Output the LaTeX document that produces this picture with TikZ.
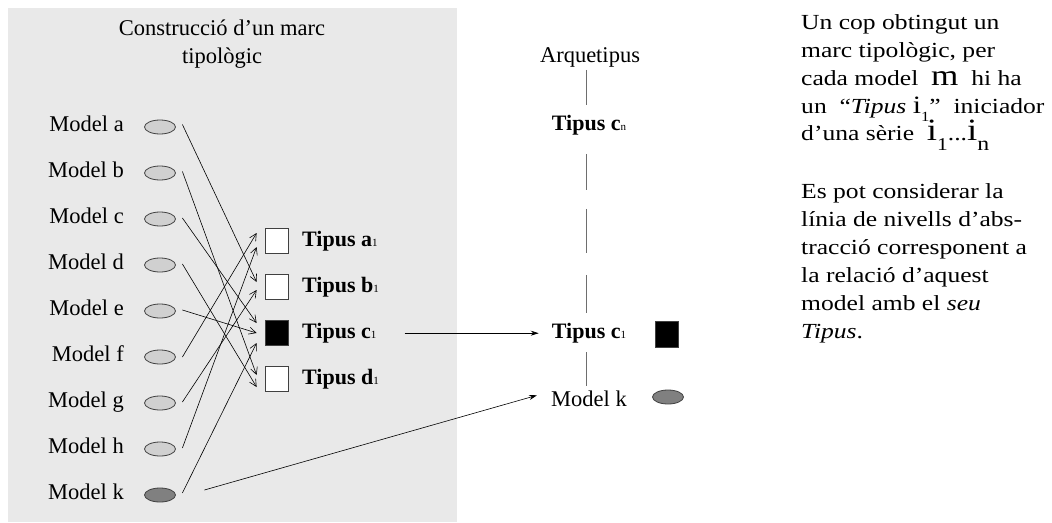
\documentclass[tikz,border=0pt]{standalone}
\usepackage{fontspec}
\setmainfont{Liberation Serif}
\newfontfamily\widefont[FakeStretch=1.19]{Liberation Serif}
\usetikzlibrary{arrows.meta,calc,shapes.geometric}

\definecolor{panel}{RGB}{233,233,233}
\definecolor{ovalfill}{RGB}{208,208,208}
\definecolor{ovaldark}{RGB}{128,128,128}
\definecolor{edge}{RGB}{64,64,64}
\definecolor{rung}{RGB}{110,110,110}

\newcommand{\idx}[1]{{\mdseries\fontsize{11}{11}\selectfont #1}}
\newcommand{\sz}[2]{{\fontsize{#1}{#1}\selectfont #2}}
\newcommand{\drop}[3]{\raisebox{-#1pt}{\sz{#2}{#3}}}

\begin{document}
\begin{tikzpicture}[x=1pt,y=-1pt,
  lbl/.style={font=\fontsize{22.5}{27}\selectfont, inner sep=0pt, anchor=base east},
  oval/.style={ellipse, draw=edge, fill=ovalfill, minimum width=31pt, minimum height=14pt, inner sep=0pt, line width=0.8pt},
  typebox/.style={draw=edge, fill=white, minimum width=23pt, minimum height=25pt, inner sep=0pt, line width=0.8pt},
  tlbl/.style={font=\bfseries\fontsize{22}{26}\selectfont, inner sep=0pt},
  link/.style={-{Straight Barb[length=7pt,width=7pt]}, line width=0.6pt},
  lead/.style={-{Stealth[length=8pt,width=5pt]}, line width=0.6pt},
  rungline/.style={draw=rung, line width=1pt},
  note/.style={font=\widefont\fontsize{21.5}{28}\selectfont, inner sep=0pt, anchor=base west},
]
\useasboundingbox (0,0) rectangle (1052,522);

% shaded panel for the typological frame
\fill[panel] (8,8) rectangle (457,522);
\node[font=\fontsize{22.5}{28}\selectfont, align=center, inner sep=0pt, anchor=north] (title) at (222,19.5)
  {Construcció d’un marc\\tipològic};

% models
\foreach \k/\y in {a/127,b/173,c/219,d/265,e/311,f/357,g/403,h/449}{
  \node[oval] (o\k) at (160,\y) {};
  \node[lbl] (l\k) at (124,\y+4.5) {Model \k};
}
\node[oval, fill=ovaldark] (ok) at (160,495) {};
\node[lbl] (lk) at (124,499.5) {Model k};

% types
\node[typebox] (ta) at (277,241) {};
\node[typebox] (tb) at (277,287) {};
\node[typebox, fill=black] (tc) at (277,333) {};
\node[typebox] (td) at (277,379) {};
\node[tlbl, anchor=base west] (la) at (302,246.5) {Tipus a\idx{1}};
\node[tlbl, anchor=base west] (lb) at (302,292.5) {Tipus b\idx{1}};
\node[tlbl, anchor=base west] (lc) at (302,338.5) {Tipus c\idx{1}};
\node[tlbl, anchor=base west] (ld) at (302,384.5) {Tipus d\idx{1}};

% model -> type assignments
\draw[link] ($(oa.east)+(6.5,-2.5)$) -- ($(tb.west)+(-8.5,-5)$);
\draw[link] ($(ob.east)+(6.5,-1.5)$) -- ($(td.west)+(-8.5,-4)$);
\draw[link] ($(oc.east)+(6.5,-1)$) -- ($(tc.west)+(-8.5,-10)$);
\draw[link] ($(od.east)+(6.5,-1)$) -- ($(td.west)+(-8.5,8)$);
\draw[link] ($(oe.east)+(6.5,-1)$) -- ($(tc.west)+(-8.5,0)$);
\draw[link] ($(of.east)+(6.5,0)$) -- ($(ta.west)+(-8.5,-8)$);
\draw[link] ($(og.east)+(6.5,-1)$) -- ($(tb.west)+(-8.5,3)$);
\draw[link] ($(oh.east)+(6.5,-1)$) -- ($(ta.west)+(-8.5,6)$);
\draw[link] ($(ok.east)+(6.5,-2)$) -- ($(tc.west)+(-8.5,10)$);

% abstraction ladder
\node[font=\fontsize{22.5}{27}\selectfont, inner sep=0pt, anchor=base] (arq) at (590,62) {Arquetipus};
\node[tlbl, anchor=base] (tcn) at (589,130) {Tipus c\idx{n}};
\node[tlbl, anchor=base] (tc1) at (589,338.5) {Tipus c\idx{1}};
\node[font=\fontsize{22.5}{27}\selectfont, inner sep=0pt, anchor=base] (mk) at (589,406) {Model k};
\node[typebox, fill=black, minimum height=26pt] (sq) at (666.5,334) {};
\node[oval, fill=ovaldark] (ek) at (668,397) {};
\coordinate (spine) at (586,0);

\draw[rungline] ($(arq.south -| spine)+(0,3)$) -- ($(tcn.north -| spine)+(0,-10)$);
\draw[rungline, dash pattern=on 36pt off 19pt on 44pt off 22pt on 40pt]
  ($(tcn.south -| spine)+(0,19)$) -- ($(tc1.north -| spine)+(0,-10)$);
\draw[rungline] ($(tc1.south -| spine)+(0,9)$) -- ($(mk.north -| spine)+(0,-4)$);

\draw[lead] ($(lc.east)+(28,0)$) -- ($(tc1.west)+(-13,0)$);
\draw[lead] ($(ok.east)+(28.5,-5)$) -- ($(mk.west)+(-14,-3)$);

% commentary, first paragraph
\node[note] (p1) at (801,29) {Un cop obtingut un};
\node[note] (p2) at (801,57) {marc tipològic, per};
\node[note] (p3) at (801,85) {cada model \ \sz{29.5}{m} \ hi ha};
\node[note] (p4) at (801,113) {un \ “\textit{Tipus} \sz{25}{i}\drop{8}{14}{1}” \ iniciador};
\node[note] (p5) at (801,140) {d’una sèrie \ \sz{31}{i}\drop{10}{18}{1}...\sz{31}{i}\drop{10}{20}{n}};

% commentary, second paragraph
\node[note] (q1) at (801,198) {Es pot considerar la};
\node[note] (q2) at (801,226) {línia de nivells d’abs-};
\node[note] (q3) at (801,254) {tracció corresponent a};
\node[note] (q4) at (801,282) {la relació d’aquest};
\node[note] (q5) at (801,310) {model amb el \textit{seu}};
\node[note] (q6) at (801,338) {\textit{Tipus}.};
\end{tikzpicture}
\end{document}
